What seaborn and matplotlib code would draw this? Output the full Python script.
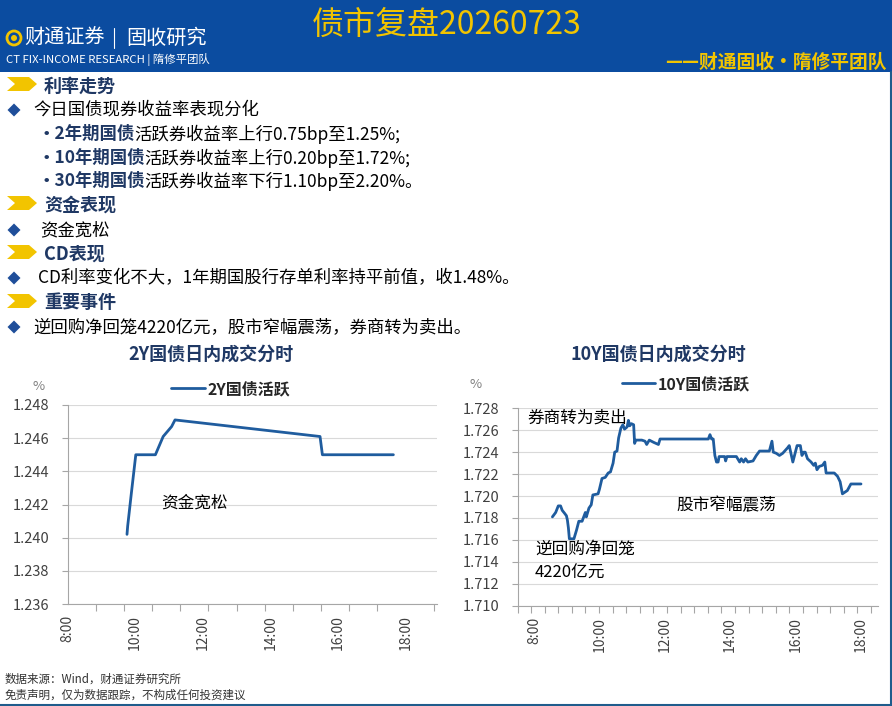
import numpy as np
import pandas as pd
import matplotlib
matplotlib.use("Agg")
import matplotlib.pyplot as plt
from matplotlib.patches import Polygon, Rectangle, Circle
from matplotlib.ticker import FixedLocator
import seaborn as sns

W, H = 892, 706

# ---- data ----
time_2y = [9.76, 9.78, 9.89, 10.02, 10.05, 10.60, 10.83, 11.08, 11.18, 15.47, 15.54, 17.64]
yield_2y = [1.2402, 1.2407, 1.2427, 1.2450, 1.2450, 1.2450, 1.2461, 1.2467, 1.2471,
            1.2461, 1.2450, 1.2450]

time_10y = [8.55, 8.65, 8.73, 8.80, 8.85, 8.93, 8.98, 9.01, 9.04, 9.07, 9.21, 9.29, 9.36,
            9.46, 9.51, 9.56, 9.59, 9.67, 9.74, 9.79, 9.95, 9.99, 10.07, 10.17, 10.26,
            10.33, 10.41, 10.46, 10.53, 10.58, 10.65, 10.71, 10.76, 10.84, 10.88, 10.92,
            10.97, 11.04, 11.07, 11.11, 11.29, 11.39, 11.44, 11.52, 11.65, 11.80, 11.85,
            13.33, 13.38, 13.43, 13.48, 13.53, 13.58, 13.63, 13.66, 13.83, 13.86, 13.90,
            14.19, 14.29, 14.34, 14.41, 14.47, 14.54, 14.70, 14.80, 14.90, 15.20, 15.28,
            15.32, 15.41, 15.51, 15.61, 15.76, 15.81, 15.92, 16.05, 16.15, 16.20, 16.25,
            16.30, 16.37, 16.48, 16.56, 16.61, 16.66, 16.73, 16.83, 16.90, 16.94, 17.19,
            17.29, 17.37, 17.44, 17.59, 17.70, 18.01]
yield_10y = [1.7181, 1.7185, 1.7191, 1.7191, 1.7187, 1.7184, 1.7182, 1.7178, 1.7171, 1.7161,
             1.7161, 1.7169, 1.7177, 1.7177, 1.7181, 1.7185, 1.7181, 1.7189, 1.7192, 1.7201,
             1.7202, 1.7206, 1.7216, 1.7217, 1.7221, 1.7222, 1.7230, 1.7240, 1.7241, 1.7253,
             1.7262, 1.7265, 1.7261, 1.7263, 1.7269, 1.7264, 1.7266, 1.7265, 1.7248, 1.7251,
             1.7251, 1.7250, 1.7247, 1.7251, 1.7249, 1.7247, 1.7252, 1.7252, 1.7256, 1.7252,
             1.7252, 1.7237, 1.7231, 1.7231, 1.7236, 1.7236, 1.7232, 1.7236, 1.7236, 1.7231,
             1.7234, 1.7231, 1.7234, 1.7231, 1.7232, 1.7237, 1.7241, 1.7241, 1.7250, 1.7240,
             1.7239, 1.7237, 1.7239, 1.7244, 1.7246, 1.7231, 1.7246, 1.7246, 1.7237, 1.7240,
             1.7240, 1.7234, 1.7231, 1.7228, 1.7230, 1.7224, 1.7227, 1.7228, 1.7231, 1.7221,
             1.7221, 1.7218, 1.7213, 1.7202, 1.7205, 1.7211, 1.7211]

yticks_2y = [1.236, 1.238, 1.240, 1.242, 1.244, 1.246, 1.248]
yticks_10y = [1.710, 1.712, 1.714, 1.716, 1.718, 1.720, 1.722, 1.724, 1.726, 1.728]
hour_ticks = [8, 10, 12, 14, 16, 18]
hour_labels = ["8:00", "10:00", "12:00", "14:00", "16:00", "18:00"]

title = "债市复盘20260723"
sections = ["利率走势", "资金表现", "CD表现", "重要事件"]
bond_names = ["2年期国债", "10年期国债", "30年期国债"]
bond_notes = ["活跃券收益率上行0.75bp至1.25%;", "活跃券收益率上行0.20bp至1.72%;",
              "活跃券收益率下行1.10bp至2.20%。"]

NAVY = "#1F3864"
LINE = "#1F5C9E"
HEAD = "#0B4CA0"
GOLD = "#F2C400"
GRID = "#D9D9D9"
TXT = "#404040"
BODY = 12.5

sns.set_theme(style="white")
plt.rcParams["font.family"] = ["Noto Sans CJK SC", "DejaVu Sans"]
plt.rcParams["axes.unicode_minus"] = False

fig = plt.figure(figsize=(W / 100, H / 100), dpi=100)
fig.patch.set_facecolor("white")

# background layer in pixel coordinates
bg = fig.add_axes([0, 0, 1, 1], zorder=0)
bg.set_xlim(0, W)
bg.set_ylim(H, 0)
bg.axis("off")

# header band
bg.add_patch(Rectangle((0, 0), W, 72, color=HEAD, lw=0))
bg.text(447, 25, title, color=GOLD, fontsize=23, ha="center", va="center")
bg.add_patch(Circle((14, 38), 7, fc="none", ec=GOLD, lw=2))
bg.add_patch(Circle((14, 38), 3, fc=GOLD, ec="none"))
bg.text(24, 38, "财通证券", color="white", fontsize=14.5, ha="left", va="center")
bg.plot([114, 114], [28, 48], color="white", lw=0.8)
bg.text(126, 38, "固收研究", color="white", fontsize=14.5, ha="left", va="center")
bg.text(6, 59, "CT FIX-INCOME RESEARCH | 隋修平团队", color="white", fontsize=8.2,
        ha="left", va="center")
bg.text(887, 62, "——财通固收·隋修平团队", color=GOLD, fontsize=13.5, fontweight="bold",
        ha="right", va="center")

# frame on right and bottom
bg.plot([890.5, 890.5], [72, 706], color="#1F5C8C", lw=1.5)
bg.plot([0, W], [704.5, 704.5], color="#1F5C8C", lw=1.5)


def chevron(y):
    bg.add_patch(Polygon([(7, y - 7), (29, y - 7), (37, y), (29, y + 7), (7, y + 7), (15, y)],
                         closed=True, fc=GOLD, ec="none"))


def diamond(y):
    bg.add_patch(Polygon([(14, y - 6.5), (20.5, y), (14, y + 6.5), (7.5, y)],
                         closed=True, fc="#1F4E9A", ec="none"))


def section(y, label):
    chevron(y - 2)
    bg.text(44, y, label, color=NAVY, fontsize=13, fontweight="bold", ha="left", va="center")


section(86, sections[0])
diamond(110)
bg.text(33, 110, "今日国债现券收益率表现分化", color="black", fontsize=BODY, va="center")
for y, name, note in zip([134, 158, 181], bond_names, bond_notes):
    t = bg.text(37, y, "•" + name, color=NAVY, fontsize=BODY, fontweight="bold", va="center")
    bg.annotate(note, xy=(1, 0.5), xycoords=t, xytext=(0, 0), textcoords="offset points",
                color="black", fontsize=BODY, va="center", ha="left")

section(205, sections[1])
diamond(230)
bg.text(40, 230, "资金宽松", color="black", fontsize=BODY, va="center")
section(254, sections[2])
diamond(278)
bg.text(38, 278, "CD利率变化不大，1年期国股行存单利率持平前值，收1.48%。", color="black",
        fontsize=BODY, va="center")
section(303, sections[3])
diamond(327)
bg.text(33, 327, "逆回购净回笼4220亿元，股市窄幅震荡，券商转为卖出。", color="black",
        fontsize=BODY, va="center")

# chart titles and units
bg.text(211, 354, "2Y国债日内成交分时", color=NAVY, fontsize=13, fontweight="bold",
        ha="center", va="center")
bg.text(658, 354, "10Y国债日内成交分时", color=NAVY, fontsize=13, fontweight="bold",
        ha="center", va="center")
bg.text(39, 386, "%", color="#808080", fontsize=9.5, ha="center", va="center")
bg.text(476, 385, "%", color="#808080", fontsize=9.5, ha="center", va="center")

# footer
bg.text(5, 679, "数据来源：Wind，财通证券研究所", color="#333333", fontsize=8.3, va="center")
bg.text(5, 695, "免责声明，仅为数据跟踪，不构成任何投资建议", color="#333333", fontsize=8.3,
        va="center")

df2 = pd.DataFrame({"time": time_2y, "yield": yield_2y})
df10 = pd.DataFrame({"time": time_10y, "yield": yield_10y})

ax1 = fig.add_axes([67.5 / W, 1 - 604 / H, (437 - 67.5) / W, (604 - 405) / H], zorder=2)
ax2 = fig.add_axes([517.5 / W, 1 - 605.7 / H, (878.3 - 517.5) / W, (605.7 - 408.3) / H],
                   zorder=2)

sns.lineplot(data=df2, x="time", y="yield", ax=ax1, color=LINE, lw=2, label="2Y国债活跃")
sns.lineplot(data=df10, x="time", y="yield", ax=ax2, color=LINE, lw=2, label="10Y国债活跃")


def style_axis(ax, yticks, xlim, minor_start, minor_step):
    ax.set_xlim(*xlim)
    ax.set_ylim(yticks[0], yticks[-1])
    ax.set_yticks(yticks)
    ax.set_yticklabels(["{:.3f}".format(v) for v in yticks])
    ax.set_xticks(hour_ticks)
    ax.set_xticklabels(hour_labels, rotation=90)
    minors = np.arange(minor_start, xlim[1] + 1e-6, minor_step)
    ax.xaxis.set_minor_locator(FixedLocator(minors))
    ax.tick_params(axis="x", which="major", length=0, pad=8, labelsize=10, labelcolor=TXT)
    ax.tick_params(axis="x", which="minor", length=5, width=0.8, color="#A6A6A6",
                   direction="out", bottom=True)
    ax.tick_params(axis="y", length=4, width=0.8, color="#A6A6A6", direction="out",
                   pad=9, labelsize=10.5, labelcolor=TXT, left=True)
    ax.grid(axis="y", color=GRID, lw=0.8)
    ax.grid(axis="x", visible=False)
    ax.set_axisbelow(True)
    for s in ["top", "right"]:
        ax.spines[s].set_visible(False)
    for s in ["left", "bottom"]:
        ax.spines[s].set_color("#A6A6A6")
        ax.spines[s].set_linewidth(0.8)
    ax.set_xlabel("")
    ax.set_ylabel("")


style_axis(ax1, yticks_2y, (8.0, 18.93), 8.0, 50 / 60)
style_axis(ax2, yticks_10y, (7.48, 18.54), 7.48, 25 / 60)

ax1.legend(loc="center", bbox_to_anchor=(231 / W, 1 - 389 / H), bbox_transform=fig.transFigure,
           frameon=False, handlelength=2.1, handletextpad=0.2,
           prop={"weight": "bold", "size": 11.5})
ax2.legend(loc="center", bbox_to_anchor=(686 / W, 1 - 384 / H), bbox_transform=fig.transFigure,
           frameon=False, handlelength=2.1, handletextpad=0.2,
           prop={"weight": "bold", "size": 11.5})

# annotations inside charts
ax1.text(10.78, 1.2421, "资金宽松", fontsize=12, color="black", va="center")
ax2.text(7.79, 1.7271, "券商转为卖出", fontsize=12, color="black", va="center")
ax2.text(8.03, 1.7152, "逆回购净回笼", fontsize=12, color="black", va="center")
ax2.text(8.0, 1.7130, "4220亿元", fontsize=12, color="black", va="center")
ax2.text(12.35, 1.7191, "股市窄幅震荡", fontsize=12, color="black", va="center")

fig.savefig("out.png", dpi=100)
